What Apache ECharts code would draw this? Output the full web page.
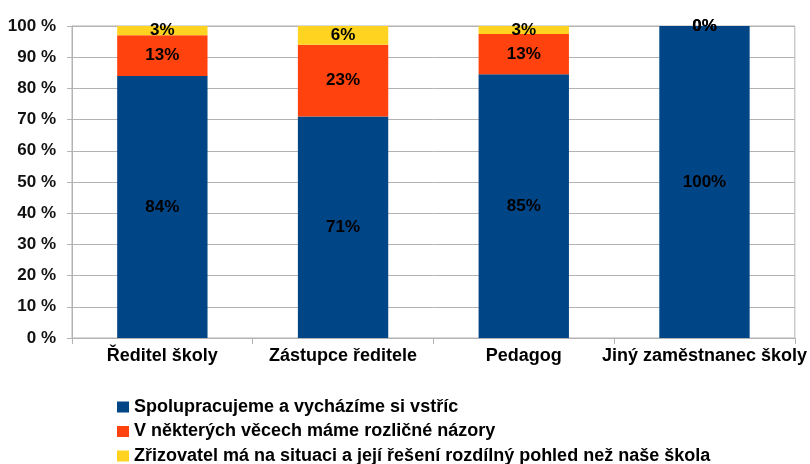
<!DOCTYPE html>
<html>
<head>
<meta charset="utf-8">
<script src="https://cdn.jsdelivr.net/npm/echarts@6/dist/echarts.min.js"></script>
<style>
    html, body { margin: 0; padding: 0; background: #fff; }
    #chart { width: 810px; height: 464px; }
</style>
</head>
<body>
<div id="chart"></div>
<script>
// kategorie na ose x
var categories = ['Ředitel školy', 'Zástupce ředitele', 'Pedagog', 'Jiný zaměstnanec školy'];
// názvy řad
var seriesNames = [
    'Spolupracujeme a vycházíme si vstříc',
    'V některých věcech máme rozličné názory',
    'Zřizovatel má na situaci a její řešení rozdílný pohled než naše škola'
];
// hodnoty v procentech
var spoluprace = [84, 71, 84.5, 100];
var nazory = [13, 23, 12.9, 0];
var zrizovatel = [3, 6, 2.6, 0];
var colors = ['#004586', '#ff420e', '#ffd320'];
var yTicks = [0, 10, 20, 30, 40, 50, 60, 70, 80, 90, 100];

var fontFamily = '"Liberation Sans", Arial, sans-serif';

function makeSeries(name, data, color){
    return {
        name: name,
        type: 'bar',
        stack: 'total',
        data: data,
        barWidth: '50%',
        itemStyle: { color: color },
        label: {
            show: true,
            position: 'inside',
            color: '#000',
            fontSize: 17,
            fontWeight: 'bold',
            fontFamily: fontFamily,
            formatter: function(p){ return Math.round(p.value) + '%'; }
        }
    };
}

var myChart = echarts.init(document.getElementById('chart'), null, {renderer: 'canvas'});
var option = {
    animation: false,
    backgroundColor: '#fff',
    grid: {
        left: 72,
        right: 15,
        top: 26,
        bottom: 126,
        show: true,
        borderColor: '#b3b3b3',
        borderWidth: 1
    },
    legend: {
        orient: 'vertical',
        left: 117,
        top: 398,
        padding: 0,
        height: 120,
        icon: 'rect',
        itemWidth: 12,
        itemHeight: 11,
        itemGap: 6.5,
        data: seriesNames,
        textStyle: {
            color: '#000',
            fontSize: 18,
            fontWeight: 'bold',
            fontFamily: fontFamily
        }
    },
    xAxis: {
        type: 'category',
        data: categories,
        axisLine: { lineStyle: { color: '#b3b3b3' } },
        axisTick: { show: true, length: 6, lineStyle: { color: '#b3b3b3' } },
        axisLabel: {
            interval: 0,
            color: '#000',
            fontSize: 18,
            fontWeight: 'bold',
            fontFamily: fontFamily,
            margin: 9
        }
    },
    yAxis: {
        type: 'value',
        min: yTicks[0],
        max: yTicks[yTicks.length - 1],
        interval: 10,
        axisLine: { show: true, lineStyle: { color: '#b3b3b3' } },
        axisTick: { show: true, length: 5, lineStyle: { color: '#b3b3b3' } },
        splitLine: { lineStyle: { color: '#b3b3b3' } },
        axisLabel: {
            color: '#111',
            fontSize: 17,
            fontWeight: 'bold',
            fontFamily: fontFamily,
            margin: 16,
            formatter: '{value} %'
        }
    },
    series: [
        makeSeries(seriesNames[0], spoluprace, colors[0]),
        makeSeries(seriesNames[1], nazory, colors[1]),
        makeSeries(seriesNames[2], zrizovatel, colors[2])
    ]
};
myChart.setOption(option);
</script>
</body>
</html>
